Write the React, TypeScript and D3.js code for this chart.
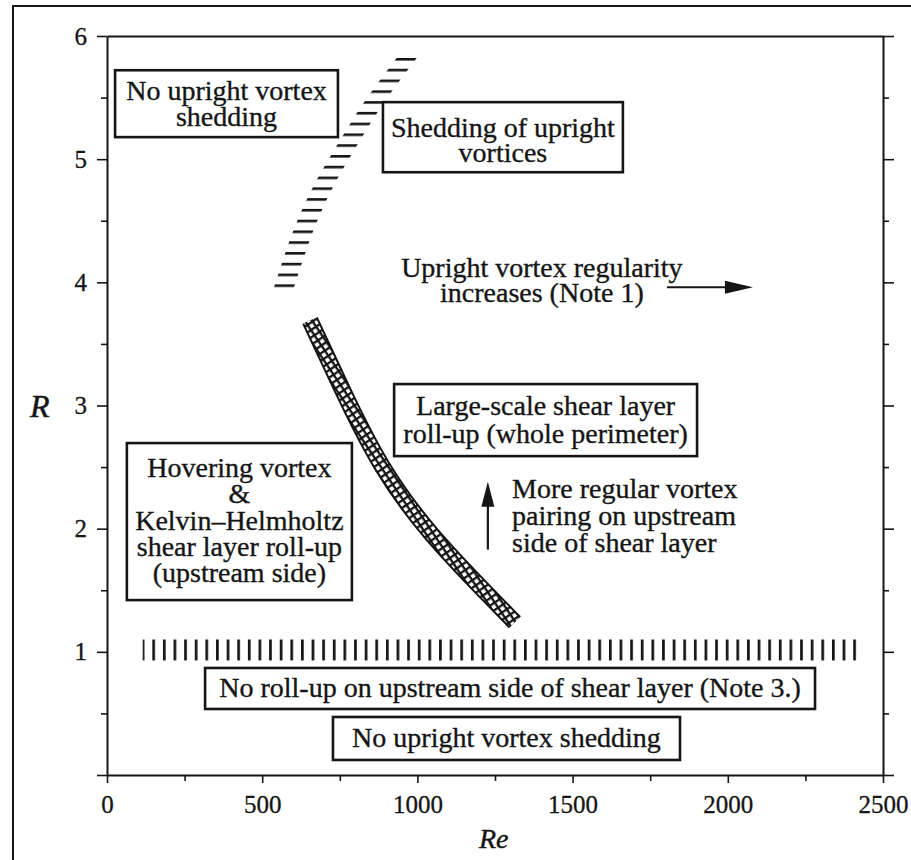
import { useEffect, useRef } from "react";
import * as d3 from "d3";

// axis ticks
const reTicks = [0, 500, 1000, 1500, 2000, 2500];
const reMinor = [250, 750, 1250, 1750, 2250];
const rTicks = [0, 1, 2, 3, 4, 5, 6];
const rMinor = [0.5, 1.5, 2.5, 3.5, 4.5, 5.5];

// boundary of upright vortex shedding (horizontal hatching)
const sheddingRe = [568, 631, 693, 773, 860, 968];
const sheddingR = [3.94, 4.41, 4.76, 5.11, 5.46, 5.83];

// boundary of large-scale roll-up (cross hatching)
const rollupRe = [654, 770, 880, 1034, 1244, 1314];
const rollupR = [3.69, 3.06, 2.5, 1.964, 1.42, 1.24];

// boundary of upstream roll-up (vertical hatching) at R ~ 1
const pairingRe = [115, 2420];
const pairingR = [0.93, 1.1];

// boxed region labels: text lines, box corners (Re, R), first baseline R
const boxes = [
  { lines: ["No upright vortex", "shedding"], re: [26, 744], r: [5.722, 5.179], base: 5.479, step: 25.5 },
  { lines: ["Shedding of upright", "vortices"], re: [889, 1662], r: [5.463, 4.894], base: 5.179, step: 25 },
  { lines: ["Large-scale shear layer", "roll-up (whole perimeter)"], re: [925, 1901], r: [3.174, 2.589], base: 2.922, step: 28 },
  {
    lines: ["Hovering vortex", "&", "Kelvin\u2013Helmholtz", "shear layer roll-up", "(upstream side)"],
    re: [64, 789], r: [2.695, 1.42], base: 2.419, step: 26.3,
  },
  { lines: ["No roll-up on upstream side of shear layer (Note 3.)"], re: [316, 2281], r: [0.869, 0.536], base: 0.633, step: 0 },
  { lines: ["No upright vortex shedding"], re: [728, 1846], r: [0.471, 0.122], base: 0.227, step: 0 },
];

// free notes with arrows
const regularityLines = ["Upright vortex regularity", "increases (Note 1)"];
const regularityAt = { re: 1401, r: 4.042 };
const regularityArrow = { re: [1804, 2081], r: 3.96 };
const pairingLines = ["More regular vortex", "pairing on upstream", "side of shear layer"];
const pairingAt = { re: 1305, r: 2.248 };
const pairingArrow = { re: 1227, r: [1.83, 2.38] };

export default function App() {
  const ref = useRef<SVGSVGElement>(null);

  useEffect(() => {
    if (!ref.current) return;
    const svg = d3.select(ref.current);
    svg.selectAll("*").remove();

    const ink = "#151515";
    const font = "'Liberation Serif', 'Times New Roman', serif";
    const x = d3.scaleLinear().domain([0, 2500]).range([107, 883]);
    const y = d3.scaleLinear().domain([0, 6]).range([775, 36]);

    svg.append("rect").attr("width", 911).attr("height", 860).attr("fill", "#fff");

    // page frame
    svg
      .append("path")
      .attr("d", "M13,860V6H911")
      .attr("fill", "none")
      .attr("stroke", ink)
      .attr("stroke-width", 2);

    // patterns
    const defs = svg.append("defs");
    const hh = defs
      .append("pattern")
      .attr("id", "hatchH")
      .attr("patternUnits", "userSpaceOnUse")
      .attr("x", 0)
      .attr("y", 58)
      .attr("width", 40)
      .attr("height", 10.78);
    hh.append("rect").attr("width", 40).attr("height", 2.6).attr("fill", ink);

    const vx0 = x(pairingRe[0]);
    const hv = defs
      .append("pattern")
      .attr("id", "hatchV")
      .attr("patternUnits", "userSpaceOnUse")
      .attr("x", vx0 - 1)
      .attr("y", 0)
      .attr("width", 10.62)
      .attr("height", 40);
    hv.append("rect").attr("width", 2.7).attr("height", 40).attr("fill", ink);

    const cell = 6.2;
    const xh = defs
      .append("pattern")
      .attr("id", "xhatch")
      .attr("patternUnits", "userSpaceOnUse")
      .attr("width", cell)
      .attr("height", cell)
      .attr("patternTransform", "rotate(56)");
    xh.append("rect").attr("width", cell).attr("height", cell).attr("fill", "#fff");
    xh.append("rect").attr("width", cell).attr("height", 2.3).attr("fill", ink);
    xh.append("rect").attr("width", 2.3).attr("height", cell).attr("fill", ink);

    // axes
    const styleAxis = (g: any) => {
      g.attr("font-family", font).attr("font-size", 25);
      g.select(".domain").attr("stroke", ink).attr("stroke-width", 2);
      g.selectAll(".tick line").attr("stroke", ink).attr("stroke-width", 1.6);
      g.selectAll(".tick text").attr("fill", ink).attr("stroke", ink).attr("stroke-width", 0.3);
    };

    svg
      .append("g")
      .attr("transform", "translate(0,775)")
      .call(d3.axisBottom(x).tickValues(reTicks).tickSize(8).tickSizeOuter(0).tickPadding(12).tickFormat(d3.format("d")))
      .call(styleAxis);
    svg
      .append("g")
      .attr("transform", "translate(0,775)")
      .call(d3.axisBottom(x).tickValues(reMinor).tickSize(6).tickFormat(() => ""))
      .call(styleAxis)
      .call((g) => g.select(".domain").remove());

    svg
      .append("g")
      .attr("transform", "translate(107,0)")
      .call(
        d3
          .axisLeft(y)
          .tickValues(rTicks)
          .tickSize(10)
          .tickSizeOuter(0)
          .tickPadding(10)
          .tickFormat((d) => (d === 0 ? "" : String(d)))
      )
      .call(styleAxis);
    svg
      .append("g")
      .attr("transform", "translate(107,0)")
      .call(d3.axisLeft(y).tickValues(rMinor).tickSize(6).tickFormat(() => ""))
      .call(styleAxis)
      .call((g) => g.select(".domain").remove());

    svg
      .append("g")
      .attr("transform", "translate(883,0)")
      .call(d3.axisRight(y).tickValues(rTicks).tickSize(11).tickSizeOuter(0).tickFormat(() => ""))
      .call(styleAxis);
    svg
      .append("g")
      .attr("transform", "translate(883,0)")
      .call(d3.axisRight(y).tickValues(rMinor).tickSize(6).tickFormat(() => ""))
      .call(styleAxis)
      .call((g) => g.select(".domain").remove());

    svg
      .append("g")
      .attr("transform", "translate(0,36)")
      .call(d3.axisTop(x).tickValues([]).tickSizeOuter(0))
      .call(styleAxis);

    // axis titles
    svg
      .append("text")
      .attr("x", 30)
      .attr("y", 417)
      .attr("font-family", font)
      .attr("font-style", "italic")
      .attr("font-size", 32)
      .attr("fill", ink)
      .attr("stroke", ink)
      .attr("stroke-width", 0.5)
      .text("R");
    svg
      .append("text")
      .attr("x", 479)
      .attr("y", 848)
      .attr("font-family", font)
      .attr("font-style", "italic")
      .attr("font-size", 28)
      .attr("fill", ink)
      .attr("stroke", ink)
      .attr("stroke-width", 0.4)
      .text("Re");

    // horizontally hatched boundary
    const band = (half: number) =>
      d3
        .area<{ re: number; r: number }>()
        .y((d) => y(d.r))
        .x0((d) => x(d.re) - half)
        .x1((d) => x(d.re) + half)
        .curve(d3.curveCatmullRom);

    const shedding = sheddingRe.map((re, i) => ({ re, r: sheddingR[i] }));
    svg.append("path").attr("d", band(10)(shedding)).attr("fill", "url(#hatchH)");

    // cross-hatched boundary: dark outer stroke, patterned inner stroke
    const rollup = rollupRe.map((re, i) => ({ re, r: rollupR[i] }));
    const centre = d3
      .line<{ re: number; r: number }>()
      .x((d) => x(d.re))
      .y((d) => y(d.r))
      .curve(d3.curveBasis);
    svg
      .append("path")
      .attr("d", centre(rollup))
      .attr("fill", "none")
      .attr("stroke", ink)
      .attr("stroke-width", 17);
    svg
      .append("path")
      .attr("d", centre(rollup))
      .attr("fill", "none")
      .attr("stroke", "url(#xhatch)")
      .attr("stroke-width", 13);

    svg
      .append("rect")
      .attr("x", vx0)
      .attr("y", y(pairingR[1]))
      .attr("width", x(pairingRe[1]) - vx0)
      .attr("height", y(pairingR[0]) - y(pairingR[1]))
      .attr("fill", "url(#hatchV)");

    // text helper
    const textBlock = (lines: string[], px: number, py: number, step: number, anchor: string) => {
      const t = svg
        .append("text")
        .attr("font-family", font)
        .attr("font-size", 28)
        .attr("fill", ink)
        .attr("stroke", ink)
        .attr("stroke-width", 0.35)
        .attr("text-anchor", anchor);
      lines.forEach((line, i) => {
        t.append("tspan").attr("x", px).attr("y", py + i * step).text(line);
      });
    };

    // boxes
    boxes.forEach((b) => {
      const x0 = x(b.re[0]);
      const x1 = x(b.re[1]);
      const y0 = y(b.r[0]);
      const y1 = y(b.r[1]);
      svg
        .append("rect")
        .attr("x", x0)
        .attr("y", y0)
        .attr("width", x1 - x0)
        .attr("height", y1 - y0)
        .attr("fill", "#fff")
        .attr("stroke", ink)
        .attr("stroke-width", 2.6);
      textBlock(b.lines, (x0 + x1) / 2, y(b.base), b.step, "middle");
    });

    // notes
    textBlock(regularityLines, x(regularityAt.re), y(regularityAt.r), 25, "middle");
    textBlock(pairingLines, x(pairingAt.re), y(pairingAt.r), 27, "start");

    // arrows
    const ax0 = x(regularityArrow.re[0]);
    const ax1 = x(regularityArrow.re[1]);
    const ay = y(regularityArrow.r);
    svg
      .append("line")
      .attr("x1", ax0)
      .attr("x2", ax1 - 20)
      .attr("y1", ay)
      .attr("y2", ay)
      .attr("stroke", ink)
      .attr("stroke-width", 2.2);
    svg
      .append("path")
      .attr("d", `M${ax1},${ay}L${ax1 - 28},${ay - 6.5}L${ax1 - 28},${ay + 6.5}Z`)
      .attr("fill", ink);

    const bx = x(pairingArrow.re);
    const by0 = y(pairingArrow.r[0]);
    const by1 = y(pairingArrow.r[1]);
    svg
      .append("line")
      .attr("x1", bx)
      .attr("x2", bx)
      .attr("y1", by0)
      .attr("y2", by1 + 18)
      .attr("stroke", ink)
      .attr("stroke-width", 2.2);
    svg
      .append("path")
      .attr("d", `M${bx},${by1}L${bx - 6.5},${by1 + 25}L${bx + 6.5},${by1 + 25}Z`)
      .attr("fill", ink);
  }, []);

  return (
    <svg
      ref={ref}
      width={911}
      height={860}
      style={{ position: "absolute", left: 0, top: 0, display: "block" }}
    />
  );
}
